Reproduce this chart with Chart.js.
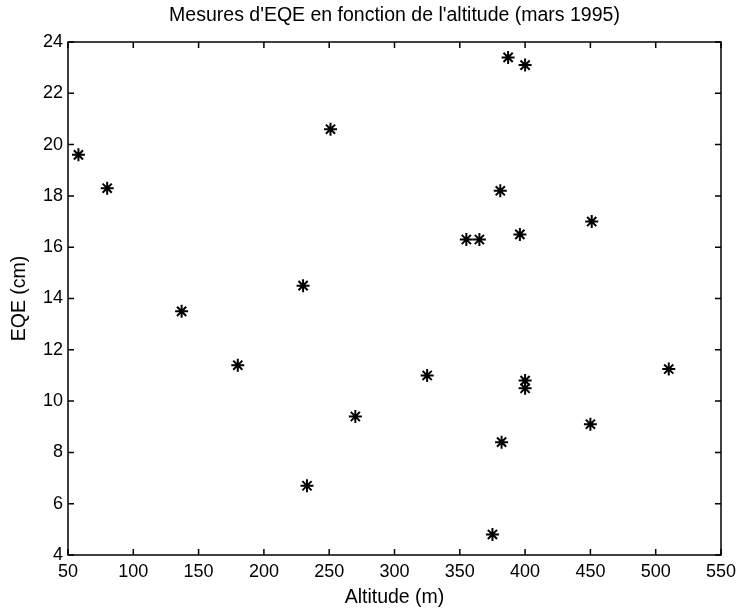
<!DOCTYPE html>
<html>
<head>
<meta charset="utf-8">
<script src="https://cdn.jsdelivr.net/npm/chart.js@4.4.1/dist/chart.umd.min.js"></script>
<style>
  html, body { margin: 0; padding: 0; background: #fff; }
  #wrap { width: 738px; height: 613px; }
</style>
</head>
<body>
<div id="wrap"><canvas id="chart" width="738" height="613"></canvas></div>
<script>
const altitudes = [58, 80, 137, 180, 230, 233, 251, 270, 325, 355, 365,
  375, 381, 382, 387, 396, 400, 400, 400, 450, 451, 510];
const eqeValues = [19.6, 18.3, 13.5, 11.4, 14.5, 6.7, 20.6, 9.4, 11.0, 16.3, 16.3,
  4.8, 18.2, 8.4, 23.4, 16.5, 23.1, 10.8, 10.5, 9.1, 17.0, 11.25];

const xTicks = [50, 100, 150, 200, 250, 300, 350, 400, 450, 500, 550];
const yTicks = [4, 6, 8, 10, 12, 14, 16, 18, 20, 22, 24];

const FONT = 'Arial, "Liberation Sans", sans-serif';

// MATLAB-like box with inward ticks on all four sides
const boxTicks = {
  id: 'boxTicks',
  afterDraw(chart) {
    const ctx = chart.ctx;
    const a = chart.chartArea;
    const xs = chart.scales.x, ys = chart.scales.y;
    const len = 6;
    ctx.save();
    ctx.strokeStyle = '#000';
    ctx.lineWidth = 1.5;
    ctx.strokeRect(a.left, a.top, a.right - a.left, a.bottom - a.top);
    ctx.beginPath();
    xTicks.forEach(function (v) {
      const px = xs.getPixelForValue(v);
      ctx.moveTo(px, a.bottom); ctx.lineTo(px, a.bottom - len);
      ctx.moveTo(px, a.top); ctx.lineTo(px, a.top + len);
    });
    yTicks.forEach(function (v) {
      const py = ys.getPixelForValue(v);
      ctx.moveTo(a.left, py); ctx.lineTo(a.left + len, py);
      ctx.moveTo(a.right, py); ctx.lineTo(a.right - len, py);
    });
    ctx.stroke();
    ctx.restore();
  }
};

const ctx = document.getElementById('chart').getContext('2d');
new Chart(ctx, {
  type: 'scatter',
  data: {
    datasets: [{
      label: 'EQE',
      data: altitudes.map(function (x, i) { return { x: x, y: eqeValues[i] }; }),
      pointStyle: 'star',
      radius: 6.5,
      borderColor: '#000',
      backgroundColor: '#000',
      borderWidth: 2
    }]
  },
  options: {
    responsive: false,
    animation: false,
    layout: { padding: { left: 0, right: 17, top: 0, bottom: 0 } },
    plugins: {
      legend: { display: false },
      tooltip: { enabled: false },
      title: {
        display: true,
        fullSize: false,
        text: "Mesures d'EQE en fonction de l'altitude (mars 1995)",
        color: '#000',
        font: { family: FONT, size: 19.5, weight: 'normal' },
        padding: { top: 4, bottom: 14.6 }
      }
    },
    scales: {
      x: {
        type: 'linear',
        min: 50,
        max: 550,
        afterBuildTicks: function (scale) {
          scale.ticks = xTicks.map(function (v) { return { value: v }; });
        },
        afterFit: function (scale) {
          scale.height = 58;
          scale.paddingLeft = 0;
          scale.paddingRight = 0;
        },
        grid: { display: false, drawTicks: false },
        border: { display: false },
        ticks: {
          color: '#000',
          padding: 6,
          maxRotation: 0,
          font: { family: FONT, size: 18 }
        },
        title: {
          display: true,
          text: 'Altitude (m)',
          color: '#000',
          font: { family: FONT, size: 19.5 },
          padding: { top: 0, bottom: 4 }
        }
      },
      y: {
        type: 'linear',
        min: 4,
        max: 24,
        afterBuildTicks: function (scale) {
          scale.ticks = yTicks.map(function (v) { return { value: v }; });
        },
        afterFit: function (scale) { scale.width = 68; },
        grid: { display: false, drawTicks: false },
        border: { display: false },
        ticks: {
          color: '#000',
          padding: 5,
          font: { family: FONT, size: 18 }
        },
        title: {
          display: true,
          text: 'EQE (cm)',
          color: '#000',
          font: { family: FONT, size: 19.5 },
          padding: { top: 8, bottom: 8 }
        }
      }
    }
  },
  plugins: [boxTicks]
});
</script>
</body>
</html>
